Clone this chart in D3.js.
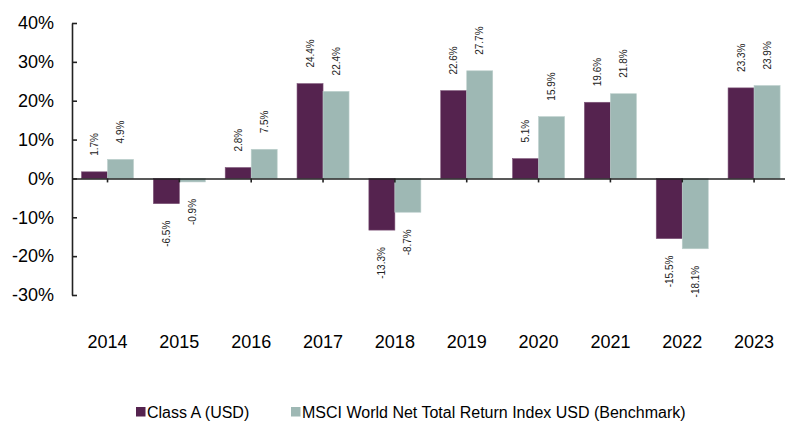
<!DOCTYPE html>
<html>
<head>
<meta charset="utf-8">
<script src="https://cdn.jsdelivr.net/npm/d3@7"></script>
<style>
  body { margin: 0; background: #fff; }
  svg { display: block; font-family: "Liberation Sans", Arial, sans-serif; }
</style>
</head>
<body>
<div id="chart"></div>
<script>
const years = ["2014", "2015", "2016", "2017", "2018", "2019", "2020", "2021", "2022", "2023"];
const classA = [1.7, -6.5, 2.8, 24.4, -13.3, 22.6, 5.1, 19.6, -15.5, 23.3];
const benchmark = [4.9, -0.9, 7.5, 22.4, -8.7, 27.7, 15.9, 21.8, -18.1, 23.9];
const seriesNames = ["Class A (USD)", "MSCI World Net Total Return Index USD (Benchmark)"];
const yTicks = [-30, -20, -10, 0, 10, 20, 30, 40];

function drawChart() {
  const width = 785, height = 422;
  const colors = ["#55234f", "#9eb8b4"];
  const strokes = ["#7d5578", "#bccfcc"];

  const svg = d3.select("#chart")
    .append("svg")
    .attr("width", width)
    .attr("height", height);

  const x = d3.scaleBand()
    .domain(years)
    .range([71.6, 790])
    .paddingInner(0)
    .paddingOuter(0);

  const y = d3.scaleLinear()
    .domain([-30, 40])
    .range([295, 23]);

  const barW = 26;
  const table = years.map((yr, i) => ({ year: yr, values: [classA[i], benchmark[i]] }));

  // bars
  const groups = svg.append("g")
    .selectAll("g")
    .data(table)
    .join("g")
    .attr("transform", d => `translate(${x(d.year) + x.bandwidth() / 2},0)`);

  groups.selectAll("rect")
    .data(d => d.values.map((v, k) => ({ v, k })))
    .join("rect")
    .attr("x", d => d.k === 0 ? -barW : 0)
    .attr("y", d => y(Math.max(0, d.v)))
    .attr("width", barW)
    .attr("height", d => Math.abs(y(d.v) - y(0)))
    .attr("fill", d => colors[d.k])
    .attr("stroke", d => strokes[d.k])
    .attr("stroke-width", 0.6);

  // value labels (rotated)
  groups.selectAll("text")
    .data(d => d.values.map((v, k) => ({ v, k })))
    .join("text")
    .attr("transform", d => {
      const cx = d.k === 0 ? -barW / 2 : barW / 2;
      const ty = d.v >= 0 ? y(d.v) - 16 : y(d.v) + 17;
      return `translate(${cx},${ty}) rotate(-90)`;
    })
    .attr("text-anchor", d => d.v >= 0 ? "start" : "end")
    .attr("dy", "0.35em")
    .style("font-size", "10px")
    .style("fill", "#222")
    .text(d => d.v.toFixed(1) + "%");

  // y axis
  const yAxis = svg.append("g")
    .attr("transform", "translate(72,0)")
    .call(d3.axisLeft(y).tickValues(yTicks).tickFormat(d => d + "%").tickSizeInner(-5).tickSizeOuter(0).tickPadding(18));
  yAxis.select(".domain").attr("stroke", "#222").attr("stroke-width", 1.6);
  yAxis.selectAll(".tick line").attr("stroke", "#222").attr("stroke-width", 1.6);
  yAxis.selectAll("text").style("font-size", "18px").style("fill", "#000");

  // x axis at zero
  const xAxis = svg.append("g")
    .attr("transform", `translate(0,${y(0)})`)
    .call(d3.axisBottom(x).tickSizeInner(4).tickSizeOuter(0).tickFormat(""));
  xAxis.select(".domain").attr("stroke", "#222").attr("stroke-width", 1.6);
  xAxis.selectAll(".tick line").attr("stroke", "#222").attr("stroke-width", 1.6);

  // category labels
  svg.append("g")
    .selectAll("text")
    .data(years)
    .join("text")
    .attr("x", d => x(d) + x.bandwidth() / 2)
    .attr("y", 348)
    .attr("text-anchor", "middle")
    .style("font-size", "18px")
    .style("fill", "#000")
    .text(d => d);

  // legend
  const legendX = [136, 291];
  const legend = svg.append("g")
    .selectAll("g")
    .data(seriesNames)
    .join("g")
    .attr("transform", (d, i) => `translate(${legendX[i]},407)`);
  legend.append("rect")
    .attr("width", 9.5)
    .attr("height", 9.5)
    .attr("fill", (d, i) => colors[i]);
  legend.append("text")
    .attr("x", 11)
    .attr("y", 11)
    .style("font-size", "16px")
    .style("fill", "#000")
    .text(d => d);
}

drawChart();
</script>
</body>
</html>
